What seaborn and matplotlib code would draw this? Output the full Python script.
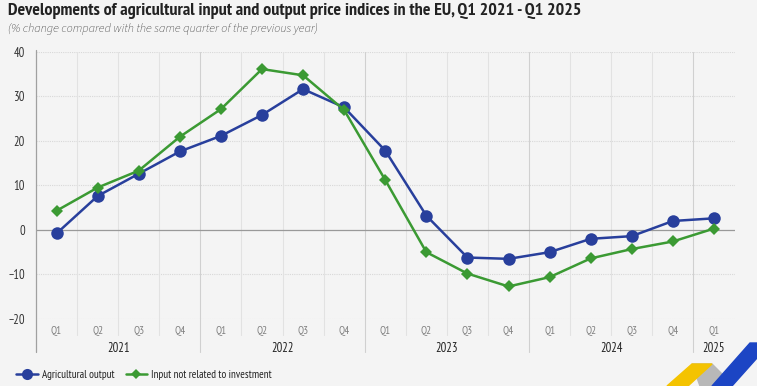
import matplotlib
matplotlib.use("Agg")
import matplotlib.pyplot as plt
import matplotlib.transforms as mtransforms
from matplotlib.patches import Polygon
import pandas as pd
import seaborn as sns

# quarters Q1 2021 - Q1 2025
quarters = ["Q1", "Q2", "Q3", "Q4"] * 4 + ["Q1"]
years = ["2021", "2022", "2023", "2024", "2025"]
agri_output = [-0.8, 7.6, 12.6, 17.6, 21.1, 25.8, 31.6, 27.5, 17.8,
               3.2, -6.2, -6.5, -5.0, -2.0, -1.4, 2.0, 2.6]
input_non_inv = [4.3, 9.5, 13.3, 20.9, 27.1, 36.1, 34.7, 26.9, 11.2,
                 -5.0, -9.8, -12.7, -10.6, -6.4, -4.3, -2.6, 0.3]
series_names = ["Agricultural output", "Input not related to investment"]

bg = "#f4f4f4"
blue = "#283f9c"
green = "#3b9a33"
narrow = ["PT Sans Narrow", "Liberation Sans", "DejaVu Sans"]
italic_font = ["Source Sans 3", "Open Sans", "DejaVu Sans"]

sns.set_theme(style="white")
plt.rcParams["font.family"] = narrow

n = len(quarters)
df = pd.DataFrame({
    "idx": list(range(n)) * 2,
    "value": agri_output + input_non_inv,
    "series": [series_names[0]] * n + [series_names[1]] * n,
})

fig = plt.figure(figsize=(7.57, 3.86), dpi=100, facecolor=bg)
ax = fig.add_axes([36 / 757, 1 - 319 / 386, (734.5 - 36) / 757, (319 - 51.7) / 386])
ax.set_facecolor(bg)

# grid
for v in [40, 30, 20, 10, -10, -20]:
    ax.axhline(v, color="#d8d8d8", lw=0.8, ls=(0, (1, 1)), zorder=0)
ax.axhline(0, color="#999999", lw=0.9, zorder=1)

trans = mtransforms.blended_transform_factory(ax.transData, ax.transAxes)
for b in range(n - 1):
    x = b + 0.5
    if (b + 1) % 4 == 0:
        ax.plot([x, x], [1, -0.125], color="#d0d0d0", lw=0.8, transform=trans, clip_on=False, zorder=0)
    else:
        ax.plot([x, x], [1, -0.06], color="#e2e2e2", lw=0.8, transform=trans, clip_on=False, zorder=0)
ax.plot([-0.5, -0.5], [1.005, -0.125], color="#a0a0a0", lw=0.9, transform=trans, clip_on=False)

sns.lineplot(data=df, x="idx", y="value", hue="series", style="series",
             markers={series_names[0]: "o", series_names[1]: "D"}, dashes=False,
             palette={series_names[0]: blue, series_names[1]: green},
             lw=1.8, ax=ax, legend=False, zorder=3)
for line, ms in zip(ax.lines[-2:], [9, 6]):
    line.set_markersize(ms)
    line.set_markeredgewidth(0)

ax.set_xlim(-0.5, n - 0.5)
ax.set_ylim(-20, 40)
ax.set_yticks(range(-20, 41, 10))
ax.tick_params(axis="y", length=0, labelsize=9, colors="#333333", pad=8)
ax.set_xticks(range(n))
ax.set_xticklabels(quarters)
ax.tick_params(axis="x", length=0, labelsize=8, colors="#808080", pad=5)
ax.set_xlabel("")
ax.set_ylabel("")
for s in ax.spines.values():
    s.set_visible(False)

# year labels
year_centres = [1.5, 5.5, 9.5, 13.5, 16]
for yr, c in zip(years, year_centres):
    ax.text(c, -0.11, yr, transform=trans, ha="center", va="center",
            fontsize=9, color="#222222")

fig.text(8 / 757, 1 - 11 / 386, "Developments of agricultural input and output price indices in the EU, Q1 2021 - Q1 2025",
         fontsize=13, fontweight="bold", color="#222222", va="center", ha="left")
fig.text(8 / 757, 1 - 29 / 386, "(% change compared with the same quarter of the previous year)",
         fontsize=8.8, fontstyle="italic", color="#2a2a2a", va="center", ha="left",
         family=italic_font)

handles = [plt.Line2D([], [], color=blue, marker="o", lw=1.8, ms=8, mew=0),
           plt.Line2D([], [], color=green, marker="D", lw=1.8, ms=5.5, mew=0)]
fig.legend(handles, series_names, loc="center left", bbox_to_anchor=(12 / 757, 1 - 375 / 386),
           ncol=2, frameon=False, fontsize=8, handlelength=1.9, handletextpad=0.4,
           columnspacing=1.0, borderaxespad=0, labelcolor="#222222")

# logo ribbons
def px(pts):
    return [(x / 757, 1 - y / 386) for x, y in pts]
fig.patches.append(Polygon(px([(667, 386), (692, 364), (712, 364), (688, 386)]),
                           closed=True, transform=fig.transFigure, color="#f4c300", zorder=5))
fig.patches.append(Polygon(px([(692, 364), (712, 364), (728, 380), (718, 386), (700, 386)]),
                           closed=True, transform=fig.transFigure, color="#b8b8b8", zorder=4))
fig.patches.append(Polygon(px([(712, 386), (750, 343), (757, 343), (757, 358), (732, 386)]),
                           closed=True, transform=fig.transFigure, color="#1c45c4", zorder=6))

fig.savefig("out.png", dpi=100, facecolor=bg)
